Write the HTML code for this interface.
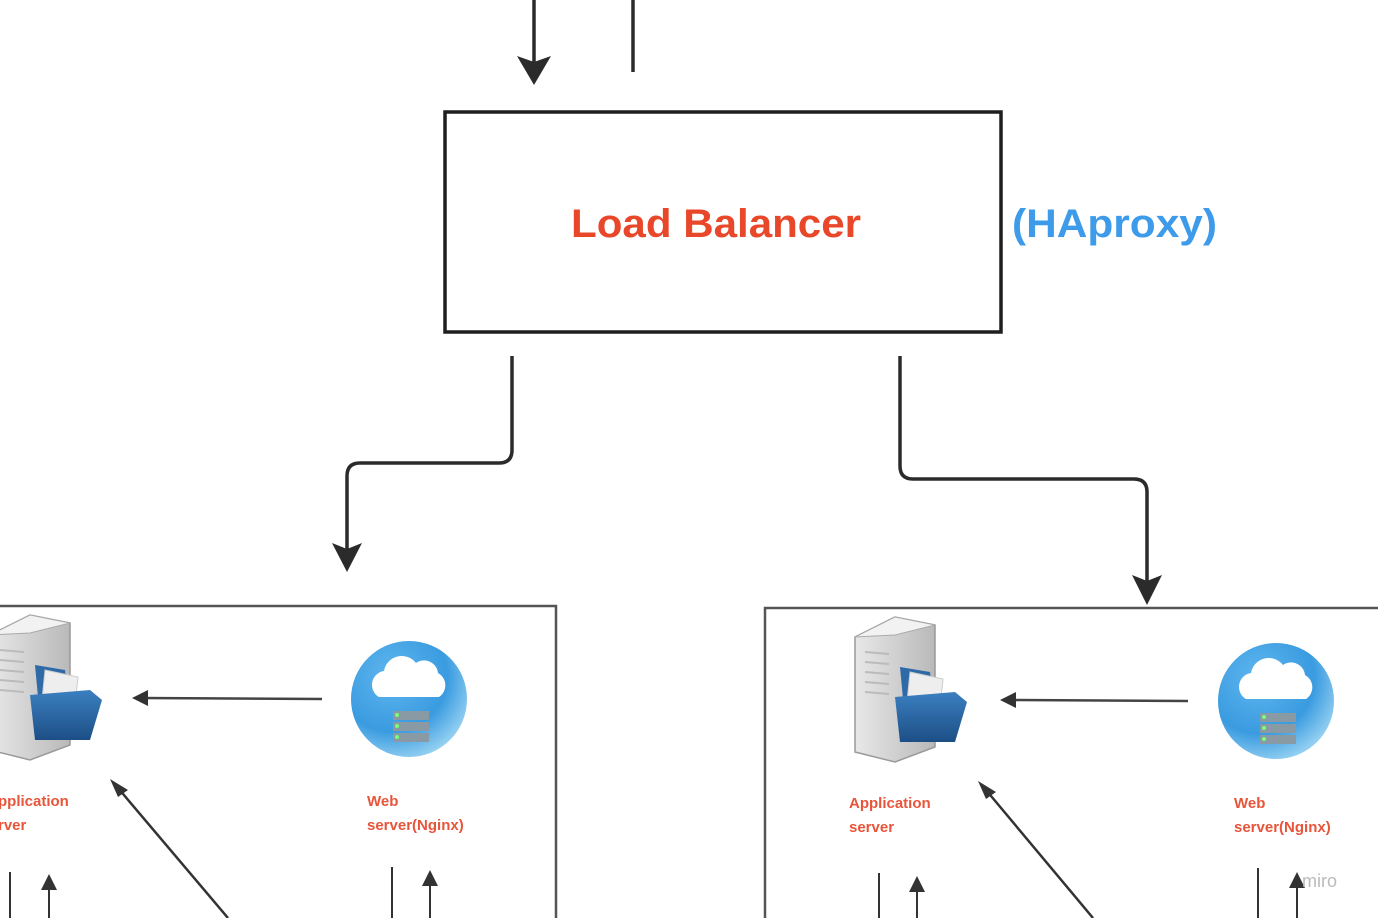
<!DOCTYPE html>
<html><head><meta charset="utf-8"><style>
html,body{margin:0;padding:0;background:#fff;width:1378px;height:918px;overflow:hidden}
svg{display:block}
text{font-family:"Liberation Sans",sans-serif}
</style></head><body>
<svg width="1378" height="918" viewBox="0 0 1378 918" xmlns="http://www.w3.org/2000/svg">
<defs>
<radialGradient id="cg" cx="0.35" cy="0.3" r="0.8"><stop offset="0" stop-color="#5fb6ee"/><stop offset="0.6" stop-color="#3a9be0"/><stop offset="1" stop-color="#a8dcf5"/></radialGradient>
<linearGradient id="tg" x1="0" x2="1"><stop offset="0" stop-color="#e8e8e8"/><stop offset="1" stop-color="#b9b9b9"/></linearGradient>
<linearGradient id="fg" x1="0" y1="0" x2="0" y2="1"><stop offset="0" stop-color="#3b7fc0"/><stop offset="1" stop-color="#1d4f86"/></linearGradient>
<g id="server">
<path d="M0 20 L40 0 L80 8 L80 130 L40 145 L0 135 Z" fill="url(#tg)" stroke="#999" stroke-width="1.5"/>
<path d="M40 0 L80 8 L40 18 L0 20 Z" fill="#f2f2f2" stroke="#aaa"/>
<path d="M10 35 L34 37 M10 45 L34 47 M10 55 L34 57 M10 65 L34 67 M10 75 L34 77" stroke="#bbb" stroke-width="2"/>
<path d="M45 50 L75 55 L78 80 L48 82 Z" fill="#2f6aa8"/>
<path d="M55 55 L88 62 L85 90 L52 85 Z" fill="#eee" stroke="#ccc"/>
<path d="M40 80 L100 75 L112 85 L100 125 L45 125 Z" fill="url(#fg)"/>
</g>
<g id="cloud">
<circle cx="0" cy="0" r="58" fill="url(#cg)"/>
<path d="M-30 -2 a14 14 0 0 1 5 -26 a18 18 0 0 1 32 -8 a14 14 0 0 1 22 10 a14 14 0 0 1 1 24 Z" fill="#fff"/>
<rect x="-16" y="12" width="36" height="9" fill="#8a9aa4"/>
<rect x="-16" y="23" width="36" height="9" fill="#8a9aa4"/>
<rect x="-16" y="34" width="36" height="9" fill="#8a9aa4"/>
<circle cx="-12" cy="16" r="2" fill="#7f7"/><circle cx="-12" cy="27" r="2" fill="#7f7"/><circle cx="-12" cy="38" r="2" fill="#7f7"/>
</g>
</defs>

<!-- top connectors -->
<line x1="534" y1="0" x2="534" y2="70" stroke="#2b2b2b" stroke-width="3.5"/>
<path d="M517 56 L534 62 L551 56 L534 85 Z" fill="#2b2b2b"/>
<line x1="633" y1="0" x2="633" y2="72" stroke="#2b2b2b" stroke-width="3.5"/>

<!-- LB box -->
<rect x="445" y="112" width="556" height="220" fill="#fff" stroke="#1e1e1e" stroke-width="3.5"/>
<text x="716" y="237" text-anchor="middle" font-size="40" font-weight="bold" fill="#e8472a" textLength="290" lengthAdjust="spacingAndGlyphs">Load Balancer</text>
<text x="1012" y="237" font-size="40" font-weight="bold" fill="#3d9be9" textLength="205" lengthAdjust="spacingAndGlyphs">(HAproxy)</text>

<!-- LB to panels -->
<path d="M512 356 L512 450 Q512 463 499 463 L360 463 Q347 463 347 476 L347 555" fill="none" stroke="#2b2b2b" stroke-width="3.5"/>
<path d="M332 543 L347 549 L362 543 L347 572 Z" fill="#2b2b2b"/>
<path d="M900 356 L900 466 Q900 479 913 479 L1134 479 Q1147 479 1147 492 L1147 588" fill="none" stroke="#2b2b2b" stroke-width="3.5"/>
<path d="M1132 575 L1147 581 L1162 575 L1147 605 Z" fill="#2b2b2b"/>

<!-- left panel -->
<path d="M-5 606 L556 606 L556 918" fill="none" stroke="#555" stroke-width="2.5"/>
<use href="#server" x="-10" y="615"/>
<line x1="322" y1="699" x2="140" y2="698" stroke="#444" stroke-width="2.5"/>
<path d="M148 690 L132 698 L148 706 Z" fill="#333"/>
<use href="#cloud" x="409" y="699"/>
<text x="-2" y="806" font-size="15" font-weight="bold" fill="#e8553a">pplication</text>
<text x="-2" y="830" font-size="15" font-weight="bold" fill="#e8553a">rver</text>
<text x="367" y="806" font-size="15" font-weight="bold" fill="#e8553a">Web</text>
<text x="367" y="830" font-size="15" font-weight="bold" fill="#e8553a">server(Nginx)</text>
<line x1="10" y1="872" x2="10" y2="918" stroke="#333" stroke-width="2"/>
<line x1="49" y1="882" x2="49" y2="918" stroke="#333" stroke-width="2"/>
<path d="M41 890 L49 874 L57 890 Z" fill="#333"/>
<line x1="392" y1="867" x2="392" y2="918" stroke="#333" stroke-width="2"/>
<line x1="430" y1="878" x2="430" y2="918" stroke="#333" stroke-width="2"/>
<path d="M422 886 L430 870 L438 886 Z" fill="#333"/>
<line x1="228" y1="918" x2="118" y2="788" stroke="#333" stroke-width="2.5"/>
<path d="M110 779 L128 790 L118 797 Z" fill="#333"/>

<!-- right panel -->
<path d="M765 918 L765 608 L1380 608" fill="none" stroke="#555" stroke-width="2.5"/>
<use href="#server" x="855" y="617"/>
<line x1="1188" y1="701" x2="1008" y2="700" stroke="#444" stroke-width="2.5"/>
<path d="M1016 692 L1000 700 L1016 708 Z" fill="#333"/>
<use href="#cloud" x="1276" y="701"/>
<text x="849" y="808" font-size="15" font-weight="bold" fill="#e8553a">Application</text>
<text x="849" y="832" font-size="15" font-weight="bold" fill="#e8553a">server</text>
<text x="1234" y="808" font-size="15" font-weight="bold" fill="#e8553a">Web</text>
<text x="1234" y="832" font-size="15" font-weight="bold" fill="#e8553a">server(Nginx)</text>
<line x1="879" y1="873" x2="879" y2="918" stroke="#333" stroke-width="2"/>
<line x1="917" y1="884" x2="917" y2="918" stroke="#333" stroke-width="2"/>
<path d="M909 892 L917 876 L925 892 Z" fill="#333"/>
<line x1="1258" y1="868" x2="1258" y2="918" stroke="#333" stroke-width="2"/>
<line x1="1297" y1="880" x2="1297" y2="918" stroke="#333" stroke-width="2"/>
<path d="M1289 888 L1297 872 L1305 888 Z" fill="#333"/>
<line x1="1093" y1="918" x2="986" y2="790" stroke="#333" stroke-width="2.5"/>
<path d="M978 781 L996 792 L986 799 Z" fill="#333"/>
<text x="1302" y="887" font-size="18" fill="#bbb">miro</text>
</svg>
</body></html>
